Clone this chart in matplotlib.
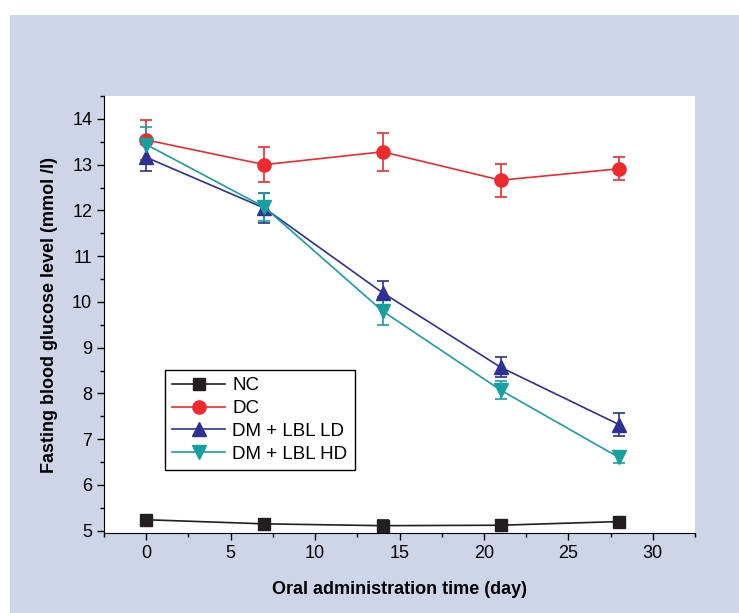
import matplotlib.pyplot as plt
from matplotlib.patches import Rectangle
from matplotlib.lines import Line2D
from matplotlib.ticker import MultipleLocator

plt.rcParams['font.family'] = ['Liberation Sans', 'DejaVu Sans']

days = [0, 7, 14, 21, 28]
nc = [5.24, 5.15, 5.11, 5.12, 5.20]
nc_err = [0.10, 0.09, 0.12, 0.10, 0.09]
dc = [13.54, 13.00, 13.28, 12.66, 12.91]
dc_err = [0.44, 0.38, 0.42, 0.36, 0.25]
ld = [13.16, 12.05, 10.20, 8.57, 7.32]
ld_err = [0.30, 0.33, 0.26, 0.22, 0.25]
hd = [13.44, 12.07, 9.80, 8.07, 6.60]
hd_err = [0.38, 0.30, 0.30, 0.20, 0.12]

labels = ['NC', 'DC', 'DM + LBL LD', 'DM + LBL HD']
colors = ['#231f20', '#ee2a2f', '#2e3192', '#16a0a0']

fig = plt.figure(figsize=(7.39, 6.13), dpi=100, facecolor='white')
fig.patches.append(Rectangle((10/739, 0), 1, 1 - 15/613, transform=fig.transFigure,
                             facecolor='#cfd5e8', edgecolor='none', zorder=-10))

ax = fig.add_axes([104/739, (613-533)/613, (695-104)/739, (533-96)/613])
ax.set_facecolor('white')

series = [(nc, nc_err, 's', 8), (dc, dc_err, 'o', 9.5), (ld, ld_err, '^', 9.5), (hd, hd_err, 'v', 9.5)]
handles = []
for (y, e, m, ms), lab, c in zip(series, labels, colors):
    ax.errorbar(days, y, yerr=e, color=c, marker=m, markersize=ms, lw=1.2,
                elinewidth=1.2, capsize=4.5, capthick=1.2)
    handles.append(Line2D([], [], color=c, marker=m, markersize=ms, lw=1.2))

ax.set_xlim(-2.5, 32.5)
ax.set_ylim(4.95, 14.5)
ax.xaxis.set_major_locator(MultipleLocator(5))
ax.xaxis.set_minor_locator(MultipleLocator(2.5))
ax.yaxis.set_major_locator(MultipleLocator(1))
ax.yaxis.set_minor_locator(MultipleLocator(0.5))
ax.spines['top'].set_visible(False)
ax.spines['right'].set_visible(False)
ax.tick_params(which='major', direction='out', length=5, width=1, labelsize=13)
ax.tick_params(which='minor', direction='out', length=3, width=1)

ax.set_xlabel('Oral administration time (day)', fontsize=13, fontweight='bold', labelpad=14)
ax.set_ylabel('Fasting blood glucose level (mmol /l)', fontsize=13, fontweight='bold', labelpad=10)

leg = ax.legend(handles, labels, loc='lower left', bbox_to_anchor=(0.103, 0.144), fontsize=13.5,
                fancybox=False, edgecolor='black', framealpha=1, borderpad=0.4,
                handlelength=2.8, labelspacing=0.3, handletextpad=0.4, borderaxespad=0)
leg.get_frame().set_linewidth(1)

fig.savefig('out.png', dpi=100)
